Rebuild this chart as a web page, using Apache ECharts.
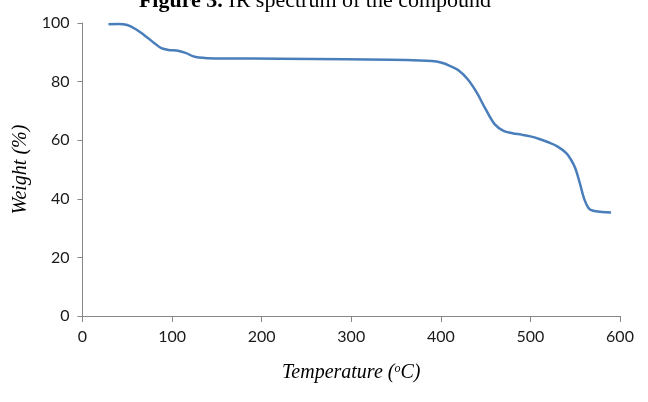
<!DOCTYPE html>
<html>
<head>
<meta charset="utf-8">
<script src="https://cdn.jsdelivr.net/npm/echarts@6/dist/echarts.min.js"></script>
<style>html,body{margin:0;padding:0;background:#fff;}#c{width:648px;height:402px;}</style>
</head>
<body>
<div id="c"></div>
<script>
var temperature = [29, 40, 50, 60, 70, 80, 88, 96, 105, 115, 123, 130, 140, 160, 220, 295, 362, 390, 400, 410, 420, 430, 440, 450, 460, 470, 480, 490, 500, 510, 520, 530, 540, 545, 550, 555, 560, 565, 570, 580, 590];
var weight = [99.6, 99.7, 99.3, 97.8, 95.6, 93.2, 91.4, 90.8, 90.6, 89.8, 88.7, 88.2, 88.0, 87.9, 87.8, 87.6, 87.4, 87.0, 86.5, 85.4, 83.8, 80.8, 76.3, 70.6, 65.5, 63.2, 62.4, 61.9, 61.3, 60.4, 59.3, 57.9, 55.6, 53.5, 50.5, 45.5, 40.0, 36.8, 35.9, 35.5, 35.3];
var xTicks = [0, 600, 100];
var yTicks = [0, 100, 20];

var data = temperature.map(function (t, i) { return [t, weight[i]]; });
var chart = echarts.init(document.getElementById('c'), null, {renderer: 'canvas'});
var axisGrey = '#868686';
chart.setOption({
  animation: false,
  backgroundColor: '#ffffff',
  grid: {left: 82.5, right: 28, top: 23, bottom: 86, containLabel: false},
  graphic: [{
    type: 'text',
    x: 315, y: 12,
    style: {
      text: '{b|Figure 3.} IR spectrum of the compound',
      textAlign: 'center',
      textVerticalAlign: 'bottom',
      font: '22px "Liberation Serif"',
      fill: '#000',
      rich: {b: {fontWeight: 'bold', fontFamily: 'Liberation Serif', fontSize: 22}}
    }
  }],
  xAxis: {
    type: 'value', min: xTicks[0], max: xTicks[1], interval: xTicks[2],
    name: 'Temperature ({s|o}C)',
    nameLocation: 'middle', nameGap: 47,
    nameTextStyle: {fontFamily: 'Liberation Serif', fontStyle: 'italic', fontSize: 20, color: '#000',
      rich: {s: {fontFamily: 'Liberation Serif', fontStyle: 'italic', fontSize: 12, verticalAlign: 'top', padding: [0, 0, 8, 0]}}},
    splitLine: {show: false},
    axisLine: {show: true, onZero: false, lineStyle: {color: axisGrey, width: 1}},
    axisTick: {show: true, length: 6, lineStyle: {color: axisGrey}},
    axisLabel: {fontFamily: 'Lato', fontSize: 16, color: '#1a1a1a', margin: 13}
  },
  yAxis: {
    type: 'value', min: yTicks[0], max: yTicks[1], interval: yTicks[2],
    name: 'Weight (%)',
    nameLocation: 'middle', nameGap: 47,
    nameTextStyle: {fontFamily: 'Liberation Serif', fontStyle: 'italic', fontSize: 20, color: '#000'},
    splitLine: {show: false},
    axisLine: {show: true, lineStyle: {color: axisGrey, width: 1}},
    axisTick: {show: true, length: 5, lineStyle: {color: axisGrey}},
    axisLabel: {fontFamily: 'Lato', fontSize: 16, color: '#1a1a1a', margin: 13}
  },
  series: [{
    type: 'line',
    data: data,
    smooth: 0.35,
    showSymbol: false,
    lineStyle: {color: '#4a7ebb', width: 2.5}
  }]
});
</script>
</body>
</html>
